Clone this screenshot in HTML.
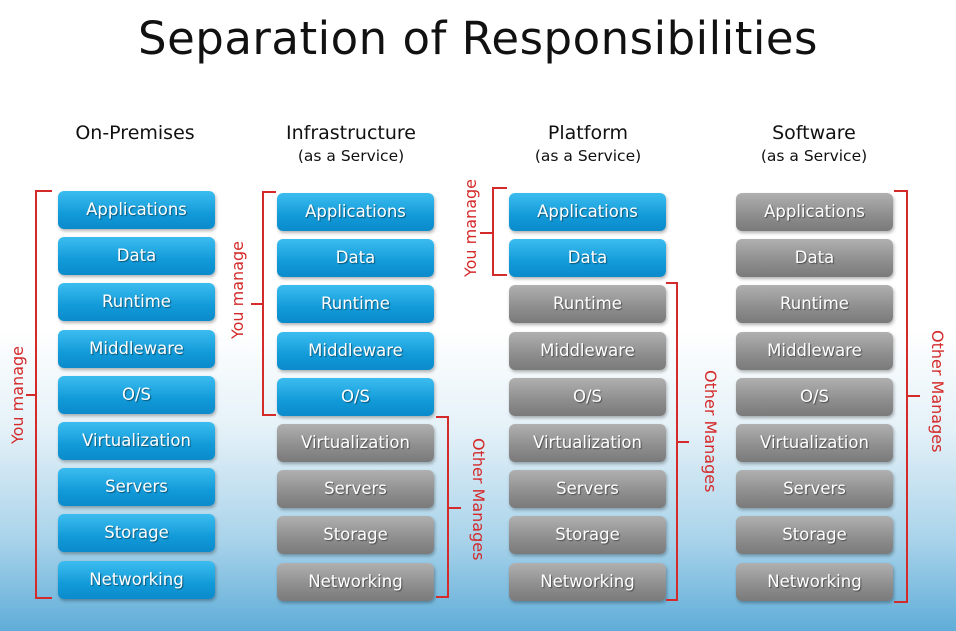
<!DOCTYPE html>
<html><head><meta charset="utf-8"><style>
*{margin:0;padding:0}
body{width:956px;height:631px;position:relative;overflow:hidden;font-family:"DejaVu Sans","Liberation Sans",sans-serif;
background:linear-gradient(#fff 0px,#fff 330px,#e4f1f8 430px,#a9d3ea 540px,#5fadd8 631px)}
.t{position:absolute;left:0;width:956px;text-align:center;top:12px;font-size:45px;color:#111;font-family:"DejaVu Sans",sans-serif;letter-spacing:0.5px}
.h{position:absolute;text-align:center;width:200px;font-size:19px;color:#111;line-height:24px}
.h small{font-size:15.5px;display:block;line-height:22px}
.b{position:absolute;width:157px;height:38px;border-radius:6px;color:#fff;font-size:16.5px;text-align:center;line-height:38px;text-shadow:1px 1px 1px rgba(0,0,0,.45);box-shadow:1px 2px 3px rgba(0,0,0,.3)}
.bl{background:linear-gradient(#3cbdf0,#129ad8 60%,#0b8bcb)}
.gr{background:linear-gradient(#b0b0b0,#8d8d8d 60%,#7a7a7a)}
.r{position:absolute;background:#d42a2a}
.lab{position:absolute;color:#d42a2a;font-size:16px;white-space:nowrap;line-height:18px}
</style></head><body>
<div class="t">Separation of Responsibilities</div>
<div class="h" style="left:35px;top:121px">On-Premises</div>
<div class="h" style="left:251px;top:121px">Infrastructure<small>(as a Service)</small></div>
<div class="h" style="left:488px;top:121px">Platform<small>(as a Service)</small></div>
<div class="h" style="left:714px;top:121px">Software<small>(as a Service)</small></div>
<div id="c"></div>
<script>
var names=["Applications","Data","Runtime","Middleware","O/S","Virtualization","Servers","Storage","Networking"];
var cols=[[58,191,9],[277,193,5],[509,193,2],[736,193,0]];
var h="";
cols.forEach(function(c){names.forEach(function(n,i){
h+='<div class="b '+(i<c[2]?'bl':'gr')+'" style="left:'+c[0]+'px;top:'+(c[1]+i*46.2)+'px">'+n+'</div>';});});
document.getElementById("c").innerHTML=h;
</script>
<div class="r" style="left:35px;top:190px;width:2px;height:409px"></div>
<div class="r" style="left:35px;top:190px;width:17px;height:2px"></div>
<div class="r" style="left:35px;top:597px;width:17px;height:2px"></div>
<div class="r" style="left:26px;top:394px;width:10px;height:2px"></div>
<div class="lab" style="left:-32px;top:386px;transform:rotate(-90deg);width:100px;text-align:center">You manage</div>
<div class="r" style="left:262px;top:191px;width:2px;height:225px"></div>
<div class="r" style="left:262px;top:191px;width:14px;height:2px"></div>
<div class="r" style="left:262px;top:414px;width:14px;height:2px"></div>
<div class="r" style="left:251px;top:303px;width:12px;height:2px"></div>
<div class="lab" style="left:188px;top:281px;transform:rotate(-90deg);width:100px;text-align:center">You manage</div>
<div class="r" style="left:447px;top:416px;width:2px;height:182px"></div>
<div class="r" style="left:436px;top:416px;width:12px;height:2px"></div>
<div class="r" style="left:436px;top:596px;width:12px;height:2px"></div>
<div class="r" style="left:448px;top:507px;width:13px;height:2px"></div>
<div class="lab" style="left:418px;top:489px;transform:rotate(90deg);width:120px;text-align:center">Other Manages</div>
<div class="r" style="left:492px;top:187px;width:2px;height:89px"></div>
<div class="r" style="left:492px;top:187px;width:15px;height:2px"></div>
<div class="r" style="left:492px;top:274px;width:15px;height:2px"></div>
<div class="r" style="left:480px;top:232px;width:13px;height:2px"></div>
<div class="lab" style="left:421px;top:219px;transform:rotate(-90deg);width:100px;text-align:center">You manage</div>
<div class="r" style="left:676px;top:282px;width:2px;height:319px"></div>
<div class="r" style="left:666px;top:282px;width:11px;height:2px"></div>
<div class="r" style="left:666px;top:599px;width:11px;height:2px"></div>
<div class="r" style="left:677px;top:441px;width:12px;height:2px"></div>
<div class="lab" style="left:650px;top:421px;transform:rotate(90deg);width:120px;text-align:center">Other Manages</div>
<div class="r" style="left:906px;top:190px;width:2px;height:413px"></div>
<div class="r" style="left:894px;top:190px;width:13px;height:2px"></div>
<div class="r" style="left:894px;top:601px;width:13px;height:2px"></div>
<div class="r" style="left:907px;top:395px;width:13px;height:2px"></div>
<div class="lab" style="left:877px;top:381px;transform:rotate(90deg);width:120px;text-align:center">Other Manages</div>
</body></html>
